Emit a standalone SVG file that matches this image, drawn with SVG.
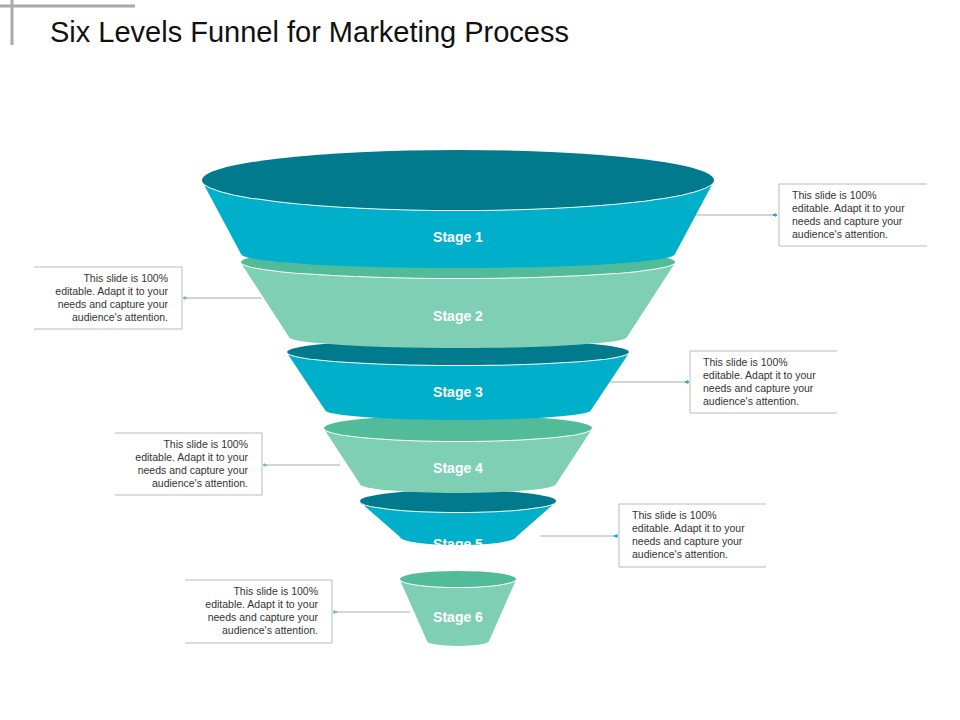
<svg xmlns="http://www.w3.org/2000/svg" width="960" height="720" viewBox="0 0 960 720">
<defs>
<style>
.dt{fill:#007A8C}.t{fill:#00B0CA}.dg{fill:#52BB9A}.lg{fill:#7ECFB4}
.lbl{font-family:"Liberation Sans",Arial,sans-serif;font-size:14px;font-weight:bold;fill:#fff;text-anchor:middle}
.note{font-family:"Liberation Sans",Arial,sans-serif;font-size:10.5px;fill:#333}
.box{fill:none;stroke:#bbb;stroke-width:1}
.ln{stroke:#aaa;stroke-width:1;fill:none}
</style>
<marker id="at" viewBox="0 0 10 10" refX="9" refY="5" markerWidth="4.5" markerHeight="4.5" orient="auto"><path d="M0,3H5V0L10,5L5,10V7H0Z" fill="#1BAFC8"/></marker>
<marker id="ag" viewBox="0 0 10 10" refX="9" refY="5" markerWidth="4.5" markerHeight="4.5" orient="auto"><path d="M0,3H5V0L10,5L5,10V7H0Z" fill="#6CC8AA"/></marker>
</defs>
<rect width="960" height="720" fill="#fff"/>
<g id="frame"><line x1="0" y1="6" x2="135" y2="6" stroke="#aaa" stroke-width="3"/><line x1="12" y1="0" x2="12" y2="45" stroke="#aaa" stroke-width="3"/></g>
<text x="50" y="42" font-family="Liberation Sans,Arial,sans-serif" font-size="29" fill="#111">Six Levels Funnel for Marketing Process</text>
<g id="connectors">
<line class="ln" x1="695" y1="215" x2="777" y2="215" marker-end="url(#at)" stroke="#aaa"/>
<line class="ln" x1="262" y1="298" x2="183" y2="298" marker-end="url(#ag)"/>
<line class="ln" x1="610" y1="382" x2="689" y2="382" marker-end="url(#at)"/>
<line class="ln" x1="340" y1="465" x2="263" y2="465" marker-end="url(#ag)"/>
<line class="ln" x1="540" y1="536" x2="618" y2="536" marker-end="url(#at)"/>
<line class="ln" x1="410" y1="612" x2="333" y2="612" marker-end="url(#ag)"/>
</g>
<g id="stage6"><ellipse class="dg" cx="458" cy="579" rx="58" ry="8"/><path class="lg" d="M400,580A58,8 0 0 0 516,580L489,641A31,5 0 0 1 427,641Z"/><text class="lbl" x="458" y="622">Stage 6</text></g>
<g id="stage5"><ellipse class="dt" cx="458" cy="501" rx="98" ry="11"/><path class="t" d="M360,502A98,11 0 0 0 556,502L516,537A58,8 0 0 1 400,537Z"/><text class="lbl" x="458" y="549">Stage 5</text></g>
<g id="stage4"><ellipse class="dg" cx="458" cy="428" rx="134" ry="13"/><path class="lg" d="M324,429A134,13 0 0 0 592,429L556,484A98,9 0 0 1 360,484Z"/><text class="lbl" x="458" y="473">Stage 4</text></g>
<g id="stage3"><ellipse class="dt" cx="458" cy="352" rx="171" ry="13"/><path class="t" d="M287,353A171,13 0 0 0 629,353L591,410A133,10 0 0 1 325,410Z"/><text class="lbl" x="458" y="397">Stage 3</text></g>
<g id="stage2"><ellipse class="dg" cx="458" cy="262" rx="217" ry="16"/><path class="lg" d="M241,263A217,16 0 0 0 675,263L627,337A169,11 0 0 1 289,337Z"/><text class="lbl" x="458" y="321">Stage 2</text></g>
<g id="stage1"><ellipse class="dt" cx="458" cy="180" rx="256" ry="30"/><path class="t" d="M202,181A256,30 0 0 0 714,181L675,254A217,14 0 0 1 241,254Z"/><text class="lbl" x="458" y="242">Stage 1</text></g>
<g id="note1"><path class="box" d="M927,184H779V246H927"/><text class="note" x="792"><tspan x="792" y="199">This slide is 100%</tspan><tspan x="792" y="212">editable.  Adapt it to your</tspan><tspan x="792" y="225">needs and capture your</tspan><tspan x="792" y="238">audience's attention.</tspan></text></g>
<g id="note2"><path class="box" d="M34,267H182V329H34"/><text class="note" text-anchor="end"><tspan x="168" y="282">This slide is 100%</tspan><tspan x="168" y="295">editable.  Adapt it to your</tspan><tspan x="168" y="308">needs and capture your</tspan><tspan x="168" y="321">audience's attention.</tspan></text></g>
<g id="note3"><path class="box" d="M837,351H690V413H837"/><text class="note"><tspan x="703" y="366">This slide is 100%</tspan><tspan x="703" y="379">editable.  Adapt it to your</tspan><tspan x="703" y="392">needs and capture your</tspan><tspan x="703" y="405">audience's attention.</tspan></text></g>
<g id="note4"><path class="box" d="M115,433H262V495H115"/><text class="note" text-anchor="end"><tspan x="248" y="448">This slide is 100%</tspan><tspan x="248" y="461">editable.  Adapt it to your</tspan><tspan x="248" y="474">needs and capture your</tspan><tspan x="248" y="487">audience's attention.</tspan></text></g>
<g id="note5"><path class="box" d="M766,504H619V567H766"/><text class="note"><tspan x="632" y="519">This slide is 100%</tspan><tspan x="632" y="532">editable.  Adapt it to your</tspan><tspan x="632" y="545">needs and capture your</tspan><tspan x="632" y="558">audience's attention.</tspan></text></g>
<g id="note6"><path class="box" d="M185,580H332V643H185"/><text class="note" text-anchor="end"><tspan x="318" y="595">This slide is 100%</tspan><tspan x="318" y="608">editable.  Adapt it to your</tspan><tspan x="318" y="621">needs and capture your</tspan><tspan x="318" y="634">audience's attention.</tspan></text></g>
</svg>
